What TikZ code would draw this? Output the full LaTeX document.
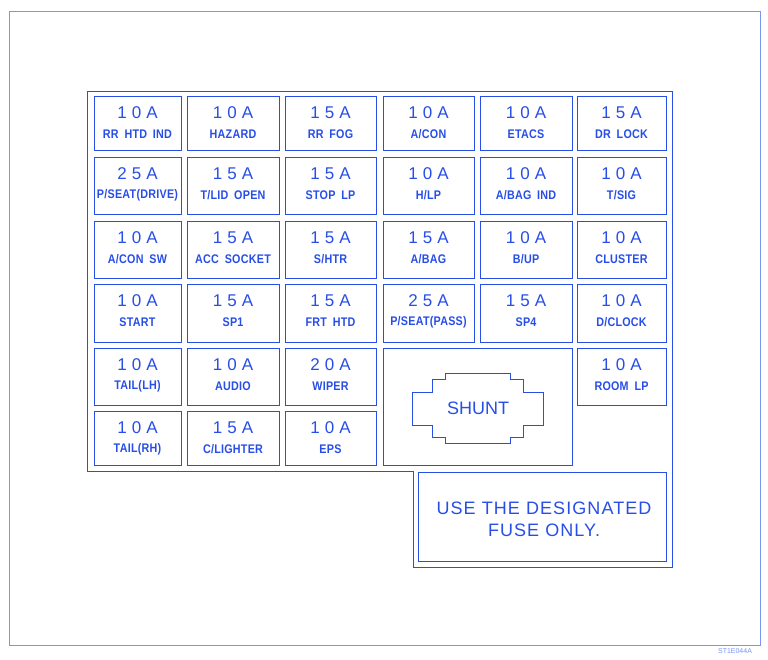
\documentclass[tikz,border=0pt]{standalone}
\usepackage{fontspec}
\setmainfont{Liberation Sans}
\newfontfamily\ampfont[LetterSpace=30]{Liberation Sans}
\newfontfamily\tagfont[FakeStretch=0.86, WordSpace=1.8, LetterSpace=2]{Liberation Sans}
\newfontfamily\notefont[LetterSpace=6]{Liberation Sans}
\usepackage{tikz}
\definecolor{inkblue}{RGB}{40,78,232}
\definecolor{paleblue}{RGB}{120,150,242}

\tikzset{
    fusebox/.style={draw=inkblue, line width=0.9pt, inner sep=0pt},
    amptext/.style={text=inkblue, inner sep=0pt, font=\ampfont\fontsize{17}{17}\selectfont},
    tagtext/.style={text=inkblue, inner sep=0pt, font=\tagfont\bfseries\fontsize{12.5}{13}\selectfont},
    plaintext/.style={text=inkblue, inner sep=0pt, font=\notefont\fontsize{18}{22}\selectfont, align=center}
}

\begin{document}
\begin{tikzpicture}[x=1pt, y=-1pt]
        \useasboundingbox (0,0) rectangle (768,659);
        \fill[white] (0,0) rectangle (768,659);
        % sheet frame
        \draw[paleblue, line width=0.9pt] (9,11) rectangle (760,645);
        \node[text=paleblue, font=\fontsize{7}{7}\selectfont, inner sep=0pt] (code) at (735,651) {ST1E044A};
        % panel outline
        \draw[inkblue, line width=0.9pt] (87,91) -- (672,91) -- (672,567) -- (413,567) -- (413,471) -- (87,471) -- cycle;
        % fuse grid
        \def\colL{{94,187,285,383,480,577}}
        \def\colR{{181,279,376,474,572,666}}
        \def\rowT{{96,157,221,284,348,411}}
        \def\rowB{{150,214,278,342,405,465}}
        \foreach \r/\c/\amp/\lbl in {
            0/0/10A/{RR HTD IND}, 0/1/10A/HAZARD, 0/2/15A/{RR FOG},
            0/3/10A/{A/CON}, 0/4/10A/ETACS, 0/5/15A/{DR LOCK},
            1/0/25A/{P/SEAT(DRIVE)}, 1/1/15A/{T/LID OPEN}, 1/2/15A/{STOP LP},
            1/3/10A/{H/LP}, 1/4/10A/{A/BAG IND}, 1/5/10A/{T/SIG},
            2/0/10A/{A/CON SW}, 2/1/15A/{ACC SOCKET}, 2/2/15A/{S/HTR},
            2/3/15A/{A/BAG}, 2/4/10A/{B/UP}, 2/5/10A/CLUSTER,
            3/0/10A/START, 3/1/15A/SP1, 3/2/15A/{FRT HTD},
            3/3/25A/{P/SEAT(PASS)}, 3/4/15A/SP4, 3/5/10A/{D/CLOCK},
            4/0/10A/{TAIL(LH)}, 4/1/10A/AUDIO, 4/2/20A/WIPER, 4/5/10A/{ROOM LP},
            5/0/10A/{TAIL(RH)}, 5/1/15A/{C/LIGHTER}, 5/2/10A/EPS}{
            \pgfmathsetmacro\xl{\colL[\c]}
            \pgfmathsetmacro\xr{\colR[\c]}
            \pgfmathsetmacro\yt{\rowT[\r]}
            \pgfmathsetmacro\yb{\rowB[\r]}
            \node[fusebox, minimum width={(\xr-\xl)*1pt}, minimum height={(\yb-\yt)*1pt}]
                (f\r\c) at ({(\xl+\xr)/2},{(\yt+\yb)/2}) {};
            \node[amptext] (f\r\c-a) at ([yshift=-17pt]f\r\c.north) {\amp};
            \node[tagtext] (f\r\c-l) at ([yshift=-39pt]f\r\c.north) {\lbl};
        }
        % shunt bay
        \node[fusebox, minimum width=189pt, minimum height=117pt] (bay) at (477.5,406.5) {};
        \draw[inkblue, line width=0.9pt] (412,392) -- (432,392) -- (432,379) -- (445,379) -- (445,373)
            -- (510,373) -- (510,379) -- (523,379) -- (523,392) -- (543,392) -- (543,425)
            -- (523,425) -- (523,437) -- (510,437) -- (510,443) -- (445,443) -- (445,437)
            -- (432,437) -- (432,425) -- (412,425) -- cycle;
        \node[text=inkblue, inner sep=0pt, font=\fontsize{18}{18}\selectfont] (shunt) at (478,408) {SHUNT};
        % caution plate
        \node[fusebox, minimum width=248pt, minimum height=89pt] (note) at (542,516.5) {};
        \node[plaintext] (note-t) at (544,519) {USE THE DESIGNATED\\FUSE ONLY.};
\end{tikzpicture}
\end{document}
